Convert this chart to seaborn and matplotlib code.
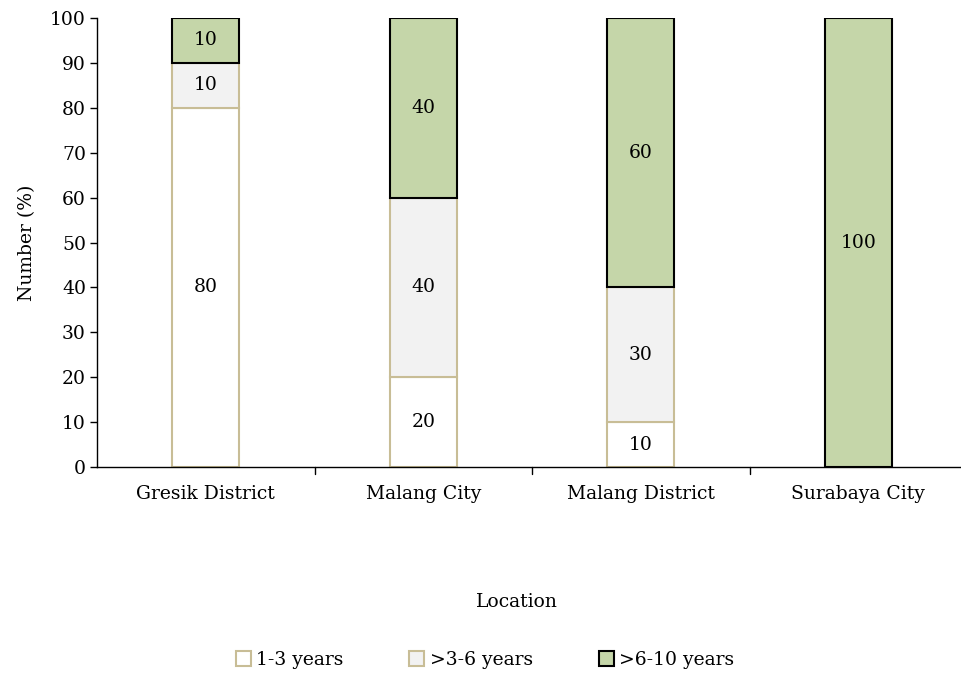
import matplotlib
matplotlib.use("Agg")
import matplotlib.pyplot as plt
import seaborn as sns
import pandas as pd
from matplotlib.patches import Patch

locations = ["Gresik District", "Malang City", "Malang District", "Surabaya City"]
series_names = ["1-3 years", ">3-6 years", ">6-10 years"]
v_1_3 = [80, 20, 10, 0]
v_3_6 = [10, 40, 30, 0]
v_6_10 = [10, 40, 60, 100]
y_ticks = [0, 10, 20, 30, 40, 50, 60, 70, 80, 90, 100]

sns.set_theme(style="white")
plt.rcParams['font.family'] = ['DejaVu Serif']
FS = 13.5
plt.rcParams['font.size'] = FS
plt.rcParams['text.color'] = 'black'
plt.rcParams['xtick.color'] = 'black'
plt.rcParams['ytick.color'] = 'black'
plt.rcParams['axes.labelcolor'] = 'black'

fills = ["#FFFFFF", "#F2F2F2", "#C5D6A9"]
edges = ["#C8BD96", "#C8BD96", "#000000"]
lws = [1.5, 1.5, 1.5]

fig = plt.figure(figsize=(9.61, 6.74), dpi=100)
ax = fig.add_axes([97/961, 207/674, 870/961, 449/674])

values = [v_1_3, v_3_6, v_6_10]
bottom = [0, 0, 0, 0]
for name, vals, fc, ec, lw in zip(series_names, values, fills, edges, lws):
    df = pd.DataFrame({"Location": locations, "Value": vals})
    sns.barplot(data=df, x="Location", y="Value", ax=ax, color=fc, saturation=1,
                width=0.31, bottom=bottom, edgecolor=ec, linewidth=lw, order=locations)
    for i, (b, v) in enumerate(zip(bottom, vals)):
        if v > 0:
            ax.text(i, b + v / 2, f"{v}", ha="center", va="center", fontsize=FS, color="black")
    bottom = [b + v for b, v in zip(bottom, vals)]

ax.set_xlim(-0.5, 3.5)
ax.set_ylim(0, 100)
ax.set_yticks(y_ticks)
ax.set_yticklabels([str(t) for t in y_ticks], fontsize=FS)
ax.set_xticks(range(len(locations)))
ax.set_xticklabels(locations, fontsize=FS)
ax.tick_params(axis="x", length=0, pad=13)
ax.tick_params(axis="y", left=True, length=5, width=1, color="black", pad=3)
for b in [0.5, 1.5, 2.5]:
    ax.plot([b, b], [0, -1.5], color="black", lw=1, clip_on=False, transform=ax.transData)
ax.set_xlabel("")
ax.set_ylabel("Number (%)", fontsize=FS, labelpad=10)
for s in ["top", "right"]:
    ax.spines[s].set_visible(False)
for s in ["left", "bottom"]:
    ax.spines[s].set_color("black")
    ax.spines[s].set_linewidth(1)

fig.text(517/961, 1 - 602/674, "Location", ha="center", va="center", fontsize=FS)

handles = [Patch(facecolor=fc, edgecolor=ec, linewidth=1.5, label=n)
           for n, fc, ec in zip(series_names, fills, edges)]
fig.legend(handles=handles, loc="center", bbox_to_anchor=(485/961, 1 - 660/674), ncol=3,
           frameon=False, handlelength=0.8, handleheight=0.8, handletextpad=0.3,
           columnspacing=3.5, fontsize=FS)

fig.savefig("out.png", dpi=100)
